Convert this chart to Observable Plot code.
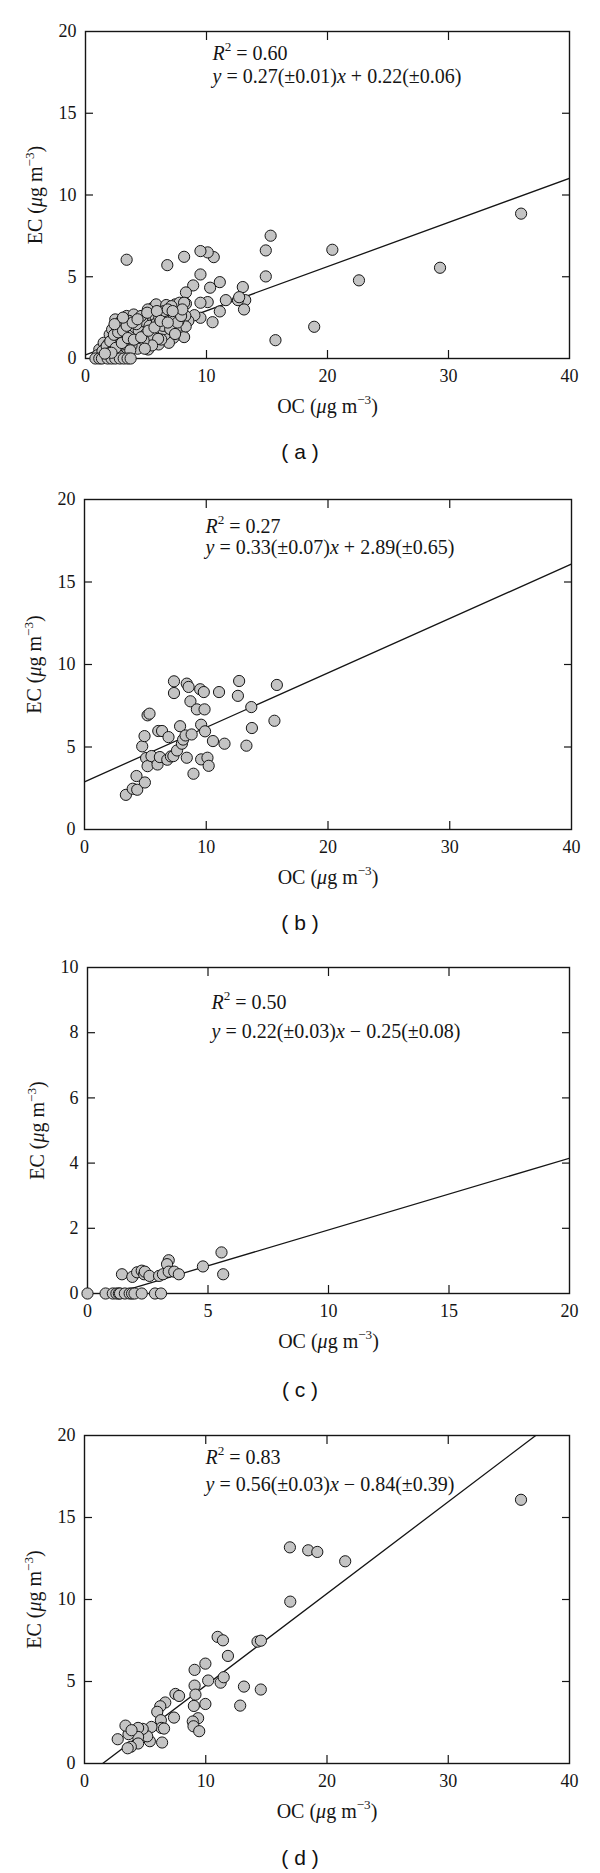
<!DOCTYPE html>
<html><head><meta charset="utf-8">
<script src="https://cdn.jsdelivr.net/npm/d3@7"></script>
<script src="https://cdn.jsdelivr.net/npm/@observablehq/plot@0.6"></script>
<style>
body{margin:0;background:#fff;}
.panel{position:relative;width:600px;height:468px;overflow:visible;}
.panel svg{position:absolute;left:0;top:0;}
.cap{position:absolute;left:0;width:600px;text-align:center;font-family:"Liberation Sans",Arial,sans-serif;font-size:21px;line-height:24px;color:#111;}
</style></head><body><div id="root"></div>
<script>
// ---------- data ----------
const ocA = [36.0,29.3,22.6,20.4,18.9,15.7,15.3,14.9,14.9,13.0,13.2,13.1,12.6,11.6,11.1,11.1,10.3,10.6,10.1,9.5,9.5,10.1,10.5,9.5,9.5,8.9,8.15,8.3,6.76,3.4,8.3,8.15,9.0,8.5,12.7,
  1.14,1.83,1.5,2.0,2.2,2.46,3.03,3.4,3.98,4.45,4.99,5.37,5.56,5.84,6.2,6.67,6.9,7.42,7.77,8.15,8.25,8.28,7.46,7.27,6.89,6.57,6.04,5.4,5.18,4.52,3.67,3.03,2.78,2.4,2.15,2.46,2.84,3.25,3.73,4.04,4.2,4.74,4.83,5.62,5.94,6.26,6.41,7.05,7.68,7.84,7.36,5.78,5.15,4.74,4.36,3.35,2.62,5.3,6.26,6.9,
  1.3,1.6,1.9,2.3,2.6,2.9,3.2,3.5,3.8,4.1,4.4,4.7,5.0,5.3,5.6,5.9,6.1,6.4,6.7,7.0,7.3,7.6,7.9,8.0,6.0,5.5,4.8,4.3,3.8,3.3,2.8,2.2,1.7,2.6,3.0,3.6,4.2,4.6,5.1,6.5,7.1,3.2,2.8,1.0,5.9,6.8,7.4,
  1.4,1.75,2.05,2.35,2.7,3.1,3.4,3.9,4.3,2.0,2.5,3.0,3.5,4.0,4.6,5.2,5.7,6.2,6.8,7.2,3.7,4.9,2.4,3.1,
  0.82,1.14,1.36,1.83,2.15,2.46,2.84,3.16,3.48,3.73,2.15,1.6];
const ecA = [8.86,5.55,4.78,6.65,1.94,1.12,7.51,6.61,5.02,4.37,3.57,3.0,3.57,3.57,4.67,2.88,4.33,6.2,6.49,6.57,5.14,3.45,2.22,3.41,2.49,4.47,6.22,4.04,5.71,6.04,3.35,1.31,2.65,2.3,3.75,
  0.55,0.65,0.96,1.47,1.78,2.39,2.39,2.6,2.69,2.29,2.18,2.6,3.1,3.31,2.8,3.27,2.9,3.31,3.41,3.41,2.61,1.96,1.78,1.27,0.96,1.47,0.86,1.67,0.55,1.47,1.16,0.86,0.55,0.45,0.86,1.16,1.57,1.88,2.08,1.67,0.96,0.86,1.98,2.08,1.67,2.18,1.78,2.29,2.29,2.8,2.59,2.59,3.0,2.59,1.27,1.47,1.78,1.27,1.16,1.9,
  0.3,0.6,0.9,1.2,1.0,1.3,1.1,1.6,1.4,1.9,1.7,2.3,1.5,2.0,1.3,2.2,2.5,2.0,2.5,1.8,2.6,2.2,2.6,3.0,1.2,0.8,1.1,0.6,0.8,0.6,0.9,0.6,0.3,1.9,2.0,2.3,2.1,2.6,2.8,2.9,3.2,0.2,0.15,0.2,2.9,3.0,1.5,
  0.45,0.75,1.05,1.45,1.6,1.7,2.0,2.2,2.4,0.35,0.65,0.95,1.25,1.15,1.3,1.7,1.9,2.3,2.2,2.9,0.5,0.6,2.1,2.5,
  0,0,0,0,0,0,0,0,0,0,0.35,0.3];

const ocB = [3.4,3.96,4.33,4.27,4.96,4.74,4.93,5.06,5.18,5.18,5.34,5.5,6.0,6.06,6.19,6.37,6.8,6.9,7.1,7.35,7.35,7.3,7.6,7.85,8.0,8.1,8.3,8.4,8.55,8.7,8.4,8.8,8.95,9.23,9.5,9.8,9.86,9.58,9.9,9.58,10.1,10.2,10.55,11.05,11.5,12.6,12.7,13.3,13.7,13.75,15.6,15.8];
const ecB = [2.1,2.47,2.41,3.24,2.85,5.04,5.66,4.33,3.84,6.92,7.02,4.45,3.94,5.97,4.39,5.97,4.23,5.6,4.43,8.98,8.27,4.45,4.79,6.26,5.2,5.45,5.7,8.84,8.64,7.77,4.35,5.76,3.38,7.28,8.5,8.33,7.28,6.35,5.95,4.25,4.35,3.86,5.36,8.33,5.2,8.1,9.0,5.08,7.42,6.15,6.59,8.76];

const ocC = [0,0.75,1.05,1.2,1.3,1.35,1.55,1.75,1.85,1.95,2.25,2.8,3.05,1.43,1.86,2.06,2.25,2.35,2.38,2.57,2.97,3.13,3.37,3.3,3.37,3.6,3.79,4.79,5.56,5.63];
const ecC = [0,0,0,0,0,0,0,0,0,0,0,0,0,0.59,0.51,0.65,0.7,0.59,0.67,0.54,0.54,0.59,1.02,0.9,0.67,0.67,0.59,0.83,1.26,0.59];

const ocD = [36.0,16.94,18.45,19.2,21.5,16.97,10.98,11.42,11.83,14.27,14.55,9.97,9.08,10.2,11.23,11.48,9.08,13.15,14.54,9.15,7.5,7.8,9.02,9.97,12.84,9.37,8.93,8.99,9.46,7.38,6.66,6.25,6.0,6.3,6.34,6.56,6.4,5.52,5.39,5.17,4.8,4.42,4.42,4.42,3.82,3.56,3.63,3.38,2.74,3.88];
const ecD = [16.08,13.18,13.0,12.9,12.33,9.87,7.72,7.51,6.56,7.43,7.49,6.09,5.71,5.06,4.93,5.26,4.75,4.69,4.51,4.2,4.24,4.12,3.51,3.63,3.53,2.76,2.56,2.27,1.97,2.8,3.72,3.49,3.15,2.64,2.17,2.13,1.28,2.23,1.36,1.66,2.11,2.17,1.62,1.22,1.02,0.93,1.79,2.31,1.48,2.03];

const xTicks40 = [0,10,20,30,40];
const yTicks20 = [0,5,10,15,20];
const xTicks20 = [0,5,10,15,20];
const yTicks10 = [0,2,4,6,8,10];

const panelLetters = ["a","b","c","d"];
const r2Values = ["0.60","0.27","0.50","0.83"];
const slopes = [0.27,0.33,0.22,0.56];
const slopeErr = ["0.01","0.07","0.03","0.03"];
const intercepts = [0.22,2.89,-0.25,-0.84];
const interceptErr = ["0.06","0.65","0.08","0.39"];
const xTitle = "OC (μg m−3)";
const yTitle = "EC (μg m−3)";

// ---------- layout (pixels) ----------
const layout = [
  {left:85, right:569, top:31, bottom:358, annDx:127, annDy:[28,51], cap:452},
  {left:84, right:571, top:31, bottom:361, annDx:121, annDy:[33,54], cap:455},
  {left:87, right:569, top:31, bottom:357, annDx:124, annDy:[41,70], cap:454},
  {left:84, right:569, top:31, bottom:359, annDx:121, annDy:[28,55], cap:454}
];
const series = [
  {oc: ocA, ec: ecA, xt: xTicks40, yt: yTicks20},
  {oc: ocB, ec: ecB, xt: xTicks40, yt: yTicks20},
  {oc: ocC, ec: ecC, xt: xTicks20, yt: yTicks10},
  {oc: ocD, ec: ecD, xt: xTicks40, yt: yTicks20}
];

const SVGNS = "http://www.w3.org/2000/svg";
function rich(el, parts, fs) {
  while (el.firstChild) el.removeChild(el.firstChild);
  let shift = 0;
  for (const p of parts) {
    const t = document.createElementNS(SVGNS, "tspan");
    if (p.i) t.setAttribute("font-style", "italic");
    if (p.sup) {
      t.setAttribute("font-size", (fs * 0.66).toFixed(1));
      t.setAttribute("dy", (-fs * 0.42).toFixed(1));
      shift = fs * 0.42;
    } else if (shift) {
      t.setAttribute("dy", shift.toFixed(1));
      shift = 0;
    }
    t.textContent = p.t;
    el.appendChild(t);
  }
}
function unitParts(prefix) {
  return [{t: prefix + " ("}, {t: "μ", i: 1}, {t: "g m"}, {t: "−3", sup: 1}, {t: ")"}];
}

const root = document.getElementById("root");
const SERIF = "'Liberation Serif','Times New Roman',serif";
const INK = "#151515";
const ANN = 20;

series.forEach((s, k) => {
  const L = layout[k];
  const H = 430;
  const pts = s.oc.map((x, i) => ({oc: x, ec: s.ec[i]}));
  const xMax = s.xt[s.xt.length - 1], yMax = s.yt[s.yt.length - 1];
  const fit = [0, xMax].map(x => ({oc: x, ec: slopes[k] * x + intercepts[k]}));
  const inner = s.xt.slice(1, -1), innerY = s.yt.slice(1, -1);
  const sign = intercepts[k] < 0 ? "−" : "+";
  const slopeStr = slopes[k].toFixed(2) + "(±" + slopeErr[k] + ")";
  const intStr = Math.abs(intercepts[k]).toFixed(2) + "(±" + interceptErr[k] + ")";
  const eqStr = "y = " + slopeStr + "x " + sign + " " + intStr;
  const r2Str = "R2 = " + r2Values[k];

  const svg = Plot.plot({
    width: 600, height: H,
    marginLeft: L.left, marginRight: 600 - L.right, marginTop: L.top, marginBottom: H - L.bottom,
    style: {fontFamily: SERIF, fontSize: "18px", color: INK, background: "white", overflow: "visible"},
    x: {domain: [0, xMax], axis: null},
    y: {domain: [0, yMax], axis: null},
    marks: [
      Plot.frame({stroke: INK, strokeWidth: 1.4}),
      // inward ticks on all four sides
      Plot.axisX(inner, {anchor: "bottom", tickSize: 8, dy: -8, fill: "none", stroke: INK, strokeWidth: 1.2}),
      Plot.axisX(inner, {anchor: "top", tickSize: 8, dy: 8, fill: "none", stroke: INK, strokeWidth: 1.2}),
      Plot.axisY(innerY, {anchor: "left", tickSize: 8, dx: 8, fill: "none", stroke: INK, strokeWidth: 1.2}),
      Plot.axisY(innerY, {anchor: "right", tickSize: 8, dx: -8, fill: "none", stroke: INK, strokeWidth: 1.2}),
      // tick labels
      Plot.axisX(s.xt, {anchor: "bottom", tickSize: 0, tickPadding: 11, label: null, fill: INK, fontSize: 18}),
      Plot.axisY(s.yt, {anchor: "left", tickSize: 0, tickPadding: 9, label: null, fill: INK, fontSize: 18}),
      // regression line
      Plot.line(fit, {x: "oc", y: "ec", stroke: INK, strokeWidth: 1.3, clip: true}),
      // points
      Plot.dot(pts, {x: "oc", y: "ec", r: 5.6, fill: "#c4c4c4", stroke: INK, strokeWidth: 1}),
      // annotations
      Plot.text([r2Str], {frameAnchor: "top-left", dx: L.annDx, dy: L.annDy[0], text: d => d, textAnchor: "start", lineAnchor: "bottom", fontSize: ANN, fill: INK}),
      Plot.text([eqStr], {frameAnchor: "top-left", dx: L.annDx, dy: L.annDy[1], text: d => d, textAnchor: "start", lineAnchor: "bottom", fontSize: ANN, fill: INK}),
      // axis titles
      Plot.text([xTitle], {frameAnchor: "bottom", dy: 54, text: d => d, textAnchor: "middle", lineAnchor: "bottom", fontSize: 20, fill: INK}),
      Plot.text([yTitle], {frameAnchor: "left", dx: -50, rotate: -90, text: d => d, textAnchor: "middle", lineAnchor: "middle", fontSize: 20, fill: INK})
    ]
  });

  // rich text (italics & superscripts), matched by content
  d3.select(svg).selectAll("text").each(function() {
    const c = this.textContent;
    if (c === r2Str) rich(this, [{t: "R", i: 1}, {t: "2", sup: 1}, {t: " = " + r2Values[k]}], ANN);
    else if (c === eqStr) rich(this, [{t: "y", i: 1}, {t: " = " + slopeStr}, {t: "x", i: 1}, {t: " " + sign + " " + intStr}], ANN);
    else if (c === xTitle) rich(this, unitParts("OC"), 20);
    else if (c === yTitle) rich(this, unitParts("EC"), 20);
  });

  const panel = document.createElement("div");
  panel.className = "panel";
  panel.appendChild(svg);
  const cap = document.createElement("div");
  cap.className = "cap";
  cap.style.top = (L.cap - 12) + "px";
  cap.textContent = "( " + panelLetters[k] + " )";
  panel.appendChild(cap);
  root.appendChild(panel);
});
</script></body></html>
